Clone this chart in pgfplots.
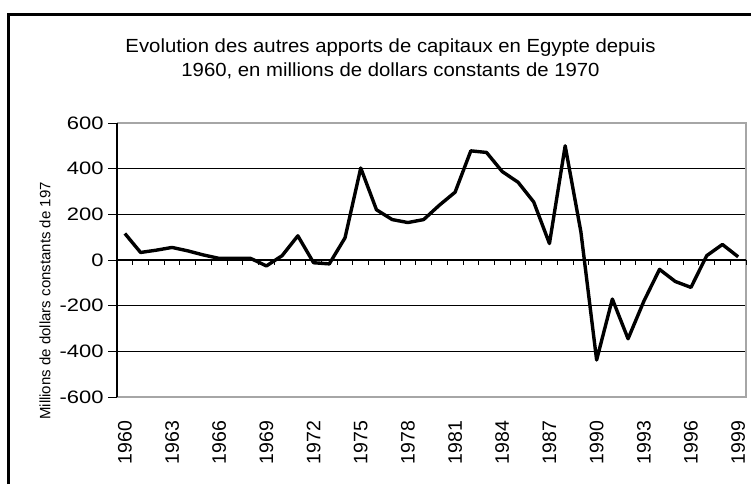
\documentclass[border=0pt]{standalone}
\usepackage{fontspec}
\setmainfont{Liberation Sans}
\newfontfamily\titlefont[FakeStretch=1.07]{Liberation Sans}
\newfontfamily\tickfont[FakeStretch=1.22]{Liberation Sans}
\newfontfamily\labfont[FakeStretch=1.0]{Liberation Sans}
\usepackage{pgfplots}
\pgfplotsset{compat=1.18}
\begin{document}
\begin{tikzpicture}[x=1pt,y=1pt]
\useasboundingbox (0,0) rectangle (751,484);
\draw[line width=3pt] (8,0) -- (8,469) -- (755,469);
\node[font=\titlefont\fontsize{19}{23}\selectfont, anchor=base] at (390.5,431.4) {Evolution des autres apports de capitaux en Egypte depuis};
\node[font=\titlefont\fontsize{19}{23}\selectfont, anchor=base] at (390.5,407.4) {1960, en millions de dollars constants de 1970};
\node[font=\labfont\fontsize{15}{17}\selectfont, rotate=90] at (45,183) {Millions de dollars constants de 197};
\begin{axis}[
  at={(117pt,87pt)}, anchor=south west,
  scale only axis, width=629pt, height=274pt,
  xmin=1959.5, xmax=1999.5, ymin=-600, ymax=600,
  xtick={1960,1963,...,1999},
  xtick style={draw=none},
  xticklabel style={rotate=90, anchor=east, font=\fontsize{19.5}{19.5}\selectfont, inner sep=0pt, xshift=-0.5pt},
  xticklabel shift=14pt,
  ytick={-600,-400,...,600},
  ytick pos=left, tick align=outside, major tick length=9pt,
  ytick style={black, line width=0.8pt},
  yticklabel style={font=\tickfont\fontsize{18}{18}\selectfont, xshift=-1pt},
  /pgf/number format/assume math mode=true,
  /pgf/number format/1000 sep={},
  axis line style={draw=none},
  clip=false,
]
\foreach \v in {-400,-200,200,400} {
  \edef\tmp{\noexpand\draw[black, line width=0.9pt] (axis cs:1959.5,\v) -- (axis cs:1999.5,\v);}
  \tmp
}
\draw[gray!70, line width=1.5pt] (axis cs:1959.5,600) -- (axis cs:1999.5,600) -- (axis cs:1999.5,-600) -- (axis cs:1959.5,-600);
\draw[black, line width=1.2pt] (axis cs:1959.5,0) -- (axis cs:1999.5,0);
\foreach \k in {1960,...,1999} {
  \edef\tmp{\noexpand\draw[black, line width=0.9pt] (axis cs:\k.5,0) -- ++(0pt,-5pt);}
  \tmp
}
\draw[black, line width=1.2pt] (axis cs:1959.5,-600) -- (axis cs:1959.5,600);
\addplot[black, line width=3.4pt, line join=round, mark=none] coordinates {
(1960,116) (1961,33) (1962,43) (1963,55) (1964,40) (1965,22) (1966,7) (1967,7)
(1968,7) (1969,-26) (1970,19) (1971,106) (1972,-12) (1973,-17) (1974,97) (1975,403)
(1976,220) (1977,177) (1978,164) (1979,177) (1980,240) (1981,297) (1982,478) (1983,471)
(1984,387) (1985,341) (1986,254) (1987,72) (1988,500) (1989,123) (1990,-438) (1991,-171)
(1992,-345) (1993,-181) (1994,-41) (1995,-94) (1996,-120) (1997,19) (1998,68) (1999,14)
};
\end{axis}
\end{tikzpicture}
\end{document}
